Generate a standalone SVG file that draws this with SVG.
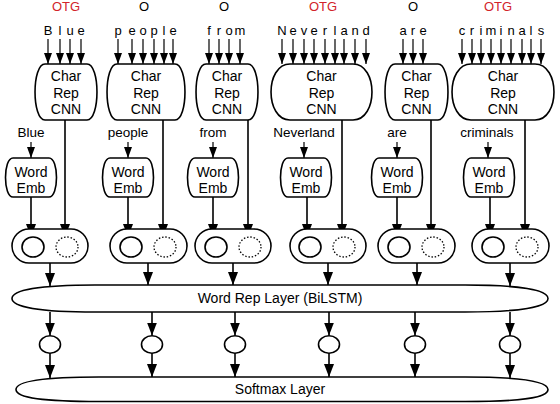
<svg xmlns="http://www.w3.org/2000/svg" width="560" height="404" viewBox="0 0 560 404">
<style>
text{font-family:"Liberation Sans",Arial,sans-serif;fill:#000}
.tag{font-size:13px;text-anchor:middle}
.red{fill:#d2232a}
.ch{font-size:13px;text-anchor:middle}
.bx{font-size:14px;text-anchor:middle}
.lb{font-size:13.5px;text-anchor:middle}
.ly{font-size:14px;text-anchor:middle}
.sh{fill:#fff;stroke:#000;stroke-width:1.6}
line{stroke:#000;stroke-width:1.6;marker-end:url(#ah)}
line.t{stroke-width:1.2;marker-end:url(#as)}
.sol{fill:#fff;stroke:#000;stroke-width:1.6}
.dot{fill:#fff;stroke:#000;stroke-width:1.3;stroke-dasharray:1.5 1.8}
</style>
<defs>
<marker id="ah" viewBox="0 0 13 10" refX="13" refY="5" markerWidth="13" markerHeight="10" markerUnits="userSpaceOnUse" orient="auto">
<path d="M0,0 L13,5 L0,10 Z" fill="#000"/>
</marker>
<marker id="as" viewBox="0 0 11 8" refX="11" refY="4" markerWidth="11" markerHeight="8" markerUnits="userSpaceOnUse" orient="auto">
<path d="M0,0 L11,4 L0,8 Z" fill="#000"/>
</marker>
</defs>

<g id="connectors">
<line class="t" x1="48" y1="39" x2="48" y2="64"/><line class="t" x1="60" y1="39" x2="60" y2="64"/><line class="t" x1="70" y1="39" x2="70" y2="64"/><line class="t" x1="81" y1="39" x2="81" y2="64"/>
<line class="t" x1="118" y1="39" x2="118" y2="64"/><line class="t" x1="132" y1="39" x2="132" y2="64"/><line class="t" x1="143" y1="39" x2="143" y2="64"/><line class="t" x1="154" y1="39" x2="154" y2="64"/><line class="t" x1="164" y1="39" x2="164" y2="64"/><line class="t" x1="173" y1="39" x2="173" y2="64"/>
<line class="t" x1="209" y1="39" x2="209" y2="64"/><line class="t" x1="219" y1="39" x2="219" y2="64"/><line class="t" x1="229" y1="39" x2="229" y2="64"/><line class="t" x1="240" y1="39" x2="240" y2="64"/>
<line class="t" x1="282" y1="39" x2="282" y2="64"/><line class="t" x1="293" y1="39" x2="293" y2="64"/><line class="t" x1="304" y1="39" x2="304" y2="64"/><line class="t" x1="314" y1="39" x2="314" y2="64"/><line class="t" x1="325" y1="39" x2="325" y2="64"/><line class="t" x1="335" y1="39" x2="335" y2="64"/><line class="t" x1="344" y1="39" x2="344" y2="64"/><line class="t" x1="355" y1="39" x2="355" y2="64"/><line class="t" x1="366" y1="39" x2="366" y2="64"/>
<line class="t" x1="403" y1="39" x2="403" y2="64"/><line class="t" x1="413" y1="39" x2="413" y2="64"/><line class="t" x1="423" y1="39" x2="423" y2="64"/>
<line class="t" x1="462" y1="39" x2="462" y2="64"/><line class="t" x1="472" y1="39" x2="472" y2="64"/><line class="t" x1="481" y1="39" x2="481" y2="64"/><line class="t" x1="491" y1="39" x2="491" y2="64"/><line class="t" x1="501" y1="39" x2="501" y2="64"/><line class="t" x1="511" y1="39" x2="511" y2="64"/><line class="t" x1="522" y1="39" x2="522" y2="64"/><line class="t" x1="531" y1="39" x2="531" y2="64"/><line class="t" x1="541" y1="39" x2="541" y2="64"/>

<line class="t" x1="31" y1="142" x2="31" y2="158"/><line class="t" x1="128" y1="142" x2="128" y2="158"/><line class="t" x1="213" y1="142" x2="213" y2="158"/><line class="t" x1="304" y1="142" x2="304" y2="158"/><line class="t" x1="397" y1="142" x2="397" y2="158"/><line class="t" x1="488" y1="142" x2="488" y2="158"/>

<line x1="65" y1="120" x2="65" y2="237"/><line x1="163" y1="120" x2="163" y2="237"/><line x1="248" y1="120" x2="248" y2="237"/><line x1="342" y1="120" x2="342" y2="237"/><line x1="431" y1="120" x2="431" y2="237"/><line x1="525" y1="120" x2="525" y2="237"/>

<line x1="31" y1="197" x2="31" y2="237"/><line x1="128" y1="197" x2="128" y2="237"/><line x1="213" y1="197" x2="213" y2="237"/><line x1="307" y1="197" x2="307" y2="237"/><line x1="397" y1="197" x2="397" y2="237"/><line x1="490" y1="197" x2="490" y2="237"/>

<line x1="50" y1="263" x2="50" y2="286"/><line x1="148" y1="263" x2="148" y2="285"/><line x1="233" y1="263" x2="233" y2="285"/><line x1="328" y1="263" x2="328" y2="285"/><line x1="417" y1="263" x2="417" y2="285"/><line x1="510" y1="263" x2="510" y2="286"/>

<line x1="50" y1="312" x2="50" y2="335.5"/><line x1="152" y1="312" x2="152" y2="335.5"/><line x1="235" y1="312" x2="235" y2="335.5"/><line x1="329" y1="312" x2="329" y2="335.5"/><line x1="415" y1="312" x2="415" y2="335.5"/><line x1="510" y1="312" x2="510" y2="335.5"/>

<line x1="50" y1="353" x2="50" y2="378"/><line x1="152" y1="353" x2="152" y2="377"/><line x1="235" y1="353" x2="235" y2="377"/><line x1="329" y1="353" x2="329" y2="377"/><line x1="415" y1="353" x2="415" y2="377"/><line x1="510" y1="353" x2="510" y2="378"/>
</g>

<g id="labels-top">
<text class="tag red" x="66" y="11">OTG</text>
<text class="tag" x="144" y="11">O</text>
<text class="tag" x="224" y="11">O</text>
<text class="tag red" x="323" y="11">OTG</text>
<text class="tag" x="413" y="11">O</text>
<text class="tag red" x="498" y="11">OTG</text>
<text class="ch" x="48 60 70 81" y="35">Blue</text>
<text class="ch" x="118 132 143 154 164 173" y="35">people</text>
<text class="ch" x="209 219 229 240" y="35">from</text>
<text class="ch" x="282 293 304 314 325 335 344 355 366" y="35">Neverland</text>
<text class="ch" x="403 413 423" y="35">are</text>
<text class="ch" x="462 472 481 491 501 511 522 531 541" y="35">criminals</text>
</g>

<g id="cnn-blue"><path class="sh" d="M45,64H87C100.3,64 100.3,120 87,120H45C31.7,120 31.7,64 45,64Z"/><text class="bx" x="66" y="81">Char</text><text class="bx" x="66" y="97.5">Rep</text><text class="bx" x="66" y="114">CNN</text></g>
<g id="cnn-people"><path class="sh" d="M117,64H175C188.3,64 188.3,120 175,120H117C103.7,120 103.7,64 117,64Z"/><text class="bx" x="146" y="81">Char</text><text class="bx" x="146" y="97.5">Rep</text><text class="bx" x="146" y="114">CNN</text></g>
<g id="cnn-from"><path class="sh" d="M206,64H248C261.3,64 261.3,120 248,120H206C192.7,120 192.7,64 206,64Z"/><text class="bx" x="227" y="81">Char</text><text class="bx" x="227" y="97.5">Rep</text><text class="bx" x="227" y="114">CNN</text></g>
<g id="cnn-neverland"><path class="sh" d="M290,64H353C378.3,64 378.3,120 353,120H290C264.7,120 264.7,64 290,64Z"/><text class="bx" x="321.5" y="81">Char</text><text class="bx" x="321.5" y="97.5">Rep</text><text class="bx" x="321.5" y="114">CNN</text></g>
<g id="cnn-are"><path class="sh" d="M395,64H438C451.3,64 451.3,120 438,120H395C381.7,120 381.7,64 395,64Z"/><text class="bx" x="416.5" y="81">Char</text><text class="bx" x="416.5" y="97.5">Rep</text><text class="bx" x="416.5" y="114">CNN</text></g>
<g id="cnn-criminals"><path class="sh" d="M471,64H535C560.3,64 560.3,120 535,120H471C445.7,120 445.7,64 471,64Z"/><text class="bx" x="503" y="81">Char</text><text class="bx" x="503" y="97.5">Rep</text><text class="bx" x="503" y="114">CNN</text></g>

<g id="words">
<text class="lb" x="31" y="137">Blue</text>
<text class="lb" x="128" y="137">people</text>
<text class="lb" x="213" y="137">from</text>
<text class="lb" x="304" y="137">Neverland</text>
<text class="lb" x="397" y="137">are</text>
<text class="lb" x="487" y="137">criminals</text>
</g>

<g id="emb-blue"><path class="sh" d="M13,158H49C59,158 59,197 49,197H13C3,197 3,158 13,158Z"/><text class="bx" x="31" y="177">Word</text><text class="bx" x="31" y="193">Emb</text></g>
<g id="emb-people"><path class="sh" d="M110,158H146C156,158 156,197 146,197H110C100,197 100,158 110,158Z"/><text class="bx" x="128" y="177">Word</text><text class="bx" x="128" y="193">Emb</text></g>
<g id="emb-from"><path class="sh" d="M195,158H231C241,158 241,197 231,197H195C185,197 185,158 195,158Z"/><text class="bx" x="213" y="177">Word</text><text class="bx" x="213" y="193">Emb</text></g>
<g id="emb-neverland"><path class="sh" d="M288,158H324C334,158 334,197 324,197H288C278,197 278,158 288,158Z"/><text class="bx" x="306" y="177">Word</text><text class="bx" x="306" y="193">Emb</text></g>
<g id="emb-are"><path class="sh" d="M379,158H415C425,158 425,197 415,197H379C369,197 369,158 379,158Z"/><text class="bx" x="397" y="177">Word</text><text class="bx" x="397" y="193">Emb</text></g>
<g id="emb-criminals"><path class="sh" d="M471,158H507C517,158 517,197 507,197H471C461,197 461,158 471,158Z"/><text class="bx" x="489" y="177">Word</text><text class="bx" x="489" y="193">Emb</text></g>

<g id="pair-blue"><rect class="sh" x="12" y="229" width="76" height="34" rx="17"/><ellipse class="sol" cx="33" cy="247" rx="11" ry="10"/><ellipse class="dot" cx="67" cy="247" rx="11" ry="10"/></g>
<g id="pair-people"><rect class="sh" x="110" y="229" width="77" height="34" rx="17"/><ellipse class="sol" cx="131" cy="247" rx="11" ry="10"/><ellipse class="dot" cx="165" cy="247" rx="11" ry="10"/></g>
<g id="pair-from"><rect class="sh" x="195" y="229" width="76" height="34" rx="17"/><ellipse class="sol" cx="216" cy="247" rx="11" ry="10"/><ellipse class="dot" cx="250" cy="247" rx="11" ry="10"/></g>
<g id="pair-neverland"><rect class="sh" x="290" y="229" width="76" height="34" rx="17"/><ellipse class="sol" cx="310" cy="247" rx="11" ry="10"/><ellipse class="dot" cx="344" cy="247" rx="11" ry="10"/></g>
<g id="pair-are"><rect class="sh" x="378" y="229" width="77" height="34" rx="17"/><ellipse class="sol" cx="399" cy="247" rx="11" ry="10"/><ellipse class="dot" cx="433" cy="247" rx="11" ry="10"/></g>
<g id="pair-criminals"><rect class="sh" x="472" y="229" width="77" height="34" rx="17"/><ellipse class="sol" cx="493" cy="247" rx="11" ry="10"/><ellipse class="dot" cx="527" cy="247" rx="11" ry="10"/></g>

<g id="wordrep"><path class="sh" d="M12,298.5C12,290 40,285 95,285H465C520,285 548,290 548,298.5C548,307 520,312 465,312H95C40,312 12,307 12,298.5Z"/><text class="ly" x="280" y="303">Word Rep Layer (BiLSTM)</text></g>

<g id="out1"><ellipse class="sol" cx="50" cy="344.5" rx="10.5" ry="8.8"/></g>
<g id="out2"><ellipse class="sol" cx="152" cy="344.5" rx="10.5" ry="8.8"/></g>
<g id="out3"><ellipse class="sol" cx="235" cy="344.5" rx="10.5" ry="8.8"/></g>
<g id="out4"><ellipse class="sol" cx="329" cy="344.5" rx="10.5" ry="8.8"/></g>
<g id="out5"><ellipse class="sol" cx="415" cy="344.5" rx="10.5" ry="8.8"/></g>
<g id="out6"><ellipse class="sol" cx="510" cy="344.5" rx="10.5" ry="8.8"/></g>

<g id="softmax"><path class="sh" d="M16,389.5C16,381 44,377 99,377H465C520,377 548,381 548,389.5C548,398 520,401.5 465,401.5H99C44,401.5 16,398 16,389.5Z"/><text class="ly" x="280" y="394">Softmax Layer</text></g>
</svg>
